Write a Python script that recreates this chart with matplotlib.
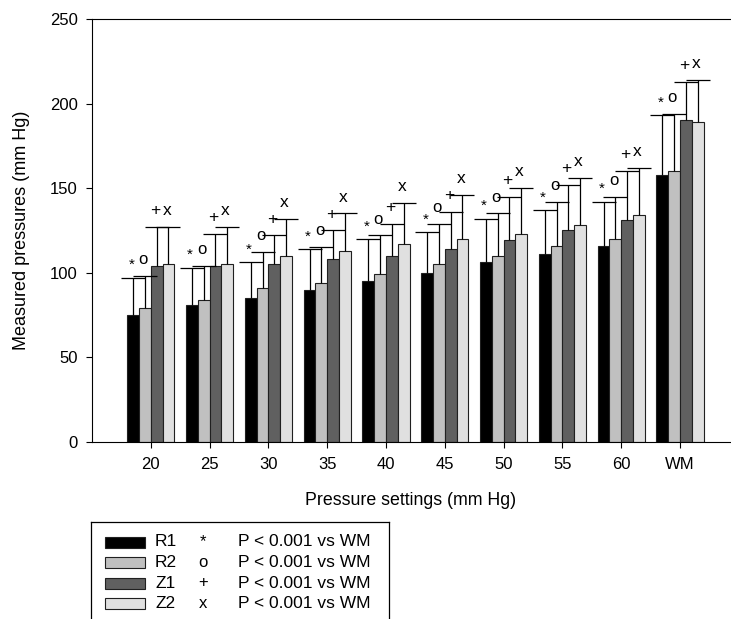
import numpy as np
import matplotlib
matplotlib.use("Agg")
import matplotlib.pyplot as plt
from matplotlib.patches import Rectangle

plt.rcParams.update({
    'font.family': ['Liberation Sans', 'DejaVu Sans'],
    'font.size': 12,
})

# --- datos ---
settings = ['20', '25', '30', '35', '40', '45', '50', '55', '60', 'WM']
r1 = [75, 81, 85, 90, 95, 100, 106, 111, 116, 158]
r1_sd = [22, 22, 21, 24, 25, 24, 26, 26, 26, 35]
r2 = [79, 84, 91, 94, 99, 105, 110, 116, 120, 160]
r2_sd = [19, 20, 21, 21, 23, 24, 25, 26, 25, 34]
z1 = [104, 104, 105, 108, 110, 114, 119, 125, 131, 190]
z1_sd = [23, 19, 17, 17, 19, 22, 26, 27, 29, 23]
z2 = [105, 105, 110, 113, 117, 120, 123, 128, 134, 189]
z2_sd = [22, 22, 22, 22, 24, 26, 27, 28, 28, 25]

series_names = ['R1', 'R2', 'Z1', 'Z2']
symbols = ['*', 'o', '+', 'x']
colors = ['#000000', '#c0c0c0', '#606060', '#e0e0e0']
legend_note = 'P < 0.001 vs WM'

means = [r1, r2, z1, z2]
sds = [r1_sd, r2_sd, z1_sd, z2_sd]

W, H = 731, 619
fig = plt.figure(figsize=(W / 100, H / 100), dpi=100)
ax = fig.add_axes([92 / W, (H - 441.7) / H, (730 - 92) / W, (441.7 - 19) / H])

x = np.arange(len(settings))
width = 0.2
offsets = [-0.3, -0.1, 0.1, 0.3]
sym_size = {'*': 11, 'o': 12, '+': 12.5, 'x': 12.5}

for k in range(4):
    xs = x + offsets[k]
    ax.bar(xs, means[k], width, color=colors[k], edgecolor='#202020', linewidth=0.8, zorder=2)
    eb = ax.errorbar(xs, means[k], yerr=[np.zeros(len(x)), sds[k]], fmt='none',
                     ecolor='black', elinewidth=0.9, capsize=8.5, capthick=0.9, zorder=3)
    # solo la barra de error superior: ocultar la tapa inferior
    eb[1][0].set_visible(False)
    tops = np.array(means[k]) + np.array(sds[k])
    dy = 5 if symbols[k] == '*' else 7
    for xi, t in zip(xs, tops):
        ax.text(xi - 0.03, t + dy, symbols[k], ha='center', va='baseline',
                fontsize=sym_size[symbols[k]])

ax.set_xlim(-1.0, 9.85)
ax.set_ylim(0, 250)
ax.set_xticks(x)
ax.set_xticklabels(settings)
ax.set_yticks(np.arange(0, 251, 50))
ax.tick_params(axis='both', direction='out', length=4.3, width=0.8, labelsize=12)
ax.tick_params(axis='x', pad=7)
ax.tick_params(axis='y', pad=6)
ax.spines['right'].set_visible(False)
for s in ['top', 'left', 'bottom']:
    ax.spines[s].set_linewidth(0.8)
ax.set_xlabel('Pressure settings (mm Hg)', fontsize=12.8, labelpad=14)
ax.set_ylabel('Measured pressures (mm Hg)', fontsize=13, labelpad=14)

# leyenda dibujada a mano (caja cortada por el borde inferior)
lx0, lx1, ly0 = 91, 389, 522
lax = fig.add_axes([lx0 / W, (H - 640) / H, (lx1 - lx0) / W, (640 - ly0) / H])
lax.set_xlim(0, lx1 - lx0)
lax.set_ylim(640 - ly0, 0)
lax.set_xticks([])
lax.set_yticks([])
for s in lax.spines.values():
    s.set_linewidth(0.9)
for i in range(4):
    yc = 20 + 20.5 * i
    lax.add_patch(Rectangle((14, yc - 5.5), 40, 11, facecolor=colors[i],
                            edgecolor='#202020', linewidth=0.8))
    lax.text(64, yc, series_names[i], va='center', ha='left', fontsize=12.5)
    lax.text(112, yc, symbols[i], va='center', ha='center', fontsize=12)
    lax.text(147, yc, legend_note, va='center', ha='left', fontsize=12.5)

fig.savefig('out.png', dpi=100)
